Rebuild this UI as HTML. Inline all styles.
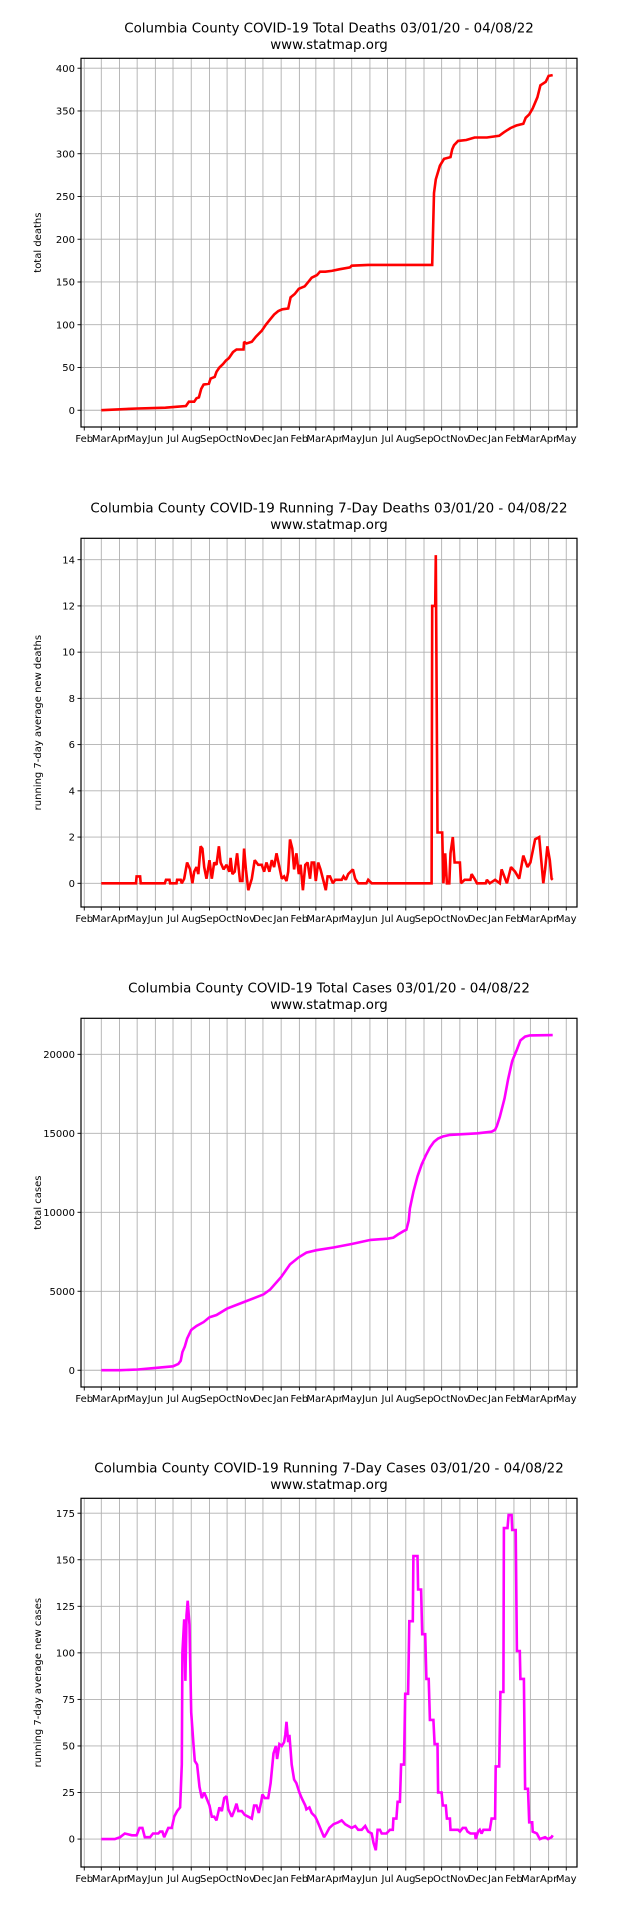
<!DOCTYPE html>
<html><head><meta charset="utf-8"><style>
body{margin:0;background:#fff;}
svg{display:block;font-family:"DejaVu Sans","Liberation Sans",sans-serif;}
</style></head><body>
<svg id="fig" width="640" height="1920" viewBox="0 0 640 1920" xmlns="http://www.w3.org/2000/svg"></svg>
<script>
// x values = days since 2020-03-01
const deathDays = [0,61,109,127,144,149,158,162,166,170,174,183,186,193,196,201,207,212,217,224,230,242,243,247,256,263,273,280,287,294,301,308,318,322,329,336,346,351,358,367,372,381,392,406,423,426,454,563,566,569,576,583,594,597,600,607,621,635,656,677,685,696,706,718,722,728,734,742,747,756,761,768];
const deathVals = [0,2,3,4,5,10,10,14,15,25,30,31,37,39,45,50,54,58,61,68,71,71,80,78,80,86,93,100,106,112,116,118,119,132,136,142,145,149,155,158,162,162,163,165,167,169,170,170,254,270,286,294,296,305,310,315,316,319,319,321,325,330,333,335,342,346,353,366,380,384,391,392];

const runDeathDays = [0,59,60,66,67,108,110,116,117,128,129,135,137,141,146,151,155,158,162,165,169,172,175,179,184,188,192,196,200,203,208,213,218,220,223,227,231,236,240,243,246,250,256,261,267,273,277,281,286,290,294,298,303,307,311,315,318,321,325,328,332,336,339,343,347,351,355,358,362,365,369,373,378,382,385,389,394,398,409,412,416,420,428,432,437,451,454,460,562,563,568,569,572,580,582,585,588,592,594,598,601,610,612,618,628,630,636,639,654,656,661,670,678,681,690,697,704,711,718,725,730,738,745,752,755,759,763,766,768];
const runDeathVals = [0,0,0.3,0.3,0,0,0.15,0.15,0,0,0.15,0.15,0,0.2,0.9,0.6,0,0.5,0.7,0.4,1.6,1.5,0.7,0.2,1.0,0.2,0.9,0.8,1.6,0.9,0.6,0.8,0.5,1.1,0.4,0.5,1.3,0.1,0.1,1.5,0.6,-0.3,0.2,1.0,0.8,0.8,0.5,0.9,0.5,1.0,0.7,1.3,0.7,0.2,0.3,0.1,0.5,1.9,1.5,0.6,1.3,0.4,0.8,-0.3,0.8,0.9,0.2,0.9,0.9,0.1,0.9,0.6,0.1,-0.3,0.3,0.3,0,0.15,0.15,0.3,0.15,0.4,0.6,0.2,0,0,0.15,0,0,12,12,14.2,2.2,2.2,0,1.3,0,0,1.3,2.0,0.9,0.9,0,0.15,0.15,0.4,0.15,0,0,0.15,0,0.15,0,0.6,0,0.7,0.5,0.2,1.2,0.7,0.9,1.9,2.0,0,0.6,1.6,1.0,0.2,0.15];

const caseDays = [0,32,62,92,122,131,135,138,142,146,153,162,174,184,196,214,245,276,287,306,321,336,349,366,396,427,458,487,497,505,514,519,523,525,531,538,545,552,559,566,573,581,593,640,664,670,673,678,686,692,699,707,713,721,729,768];
const caseVals = [0,0,50,150,250,400,600,1150,1500,2000,2550,2800,3050,3350,3500,3900,4350,4800,5100,5900,6700,7150,7450,7600,7780,8000,8250,8330,8400,8600,8800,8900,9470,10250,11300,12270,13030,13600,14100,14460,14670,14800,14900,15000,15100,15220,15470,16040,17200,18420,19580,20300,20880,21120,21200,21220];

const runCaseDays = [0,23,32,40,52,60,65,70,74,83,88,97,100,104,107,114,120,124,129,134,137,138,141,143,145,147,150,153,157,159,163,167,171,175,179,184,188,192,196,201,205,209,213,216,222,226,230,233,239,244,250,256,260,264,268,272,274,278,284,288,293,297,299,303,307,311,313,315,318,320,324,328,332,337,341,347,349,354,358,364,367,371,375,379,383,388,395,403,409,415,420,426,432,437,443,449,454,460,463,467,470,474,477,485,491,496,497,502,504,508,510,515,517,522,524,530,531,538,539,544,546,551,553,557,559,565,567,572,573,579,581,586,588,593,594,607,610,615,620,623,628,636,637,641,644,647,650,661,664,670,671,677,679,684,685,691,693,698,699,705,707,712,713,719,721,726,728,733,734,741,746,755,760,766,768];
const runCaseVals = [0,0,1,3,2,2,6,6,1,1,3,3,4,4,1,6,6,12,15,17,40,100,118,85,120,128,115,68,50,42,40,28,22,25,22,18,12,12,10,17,15,22,23,16,12,15,19,15,15,13,12,11,18,18,14,20,24,22,22,30,46,50,43,51,50,52,56,63,52,56,40,32,30,25,22,18,16,17,14,12,10,7,4,1,3,6,8,9,10,8,7,6,7,5,5,7,4,3,-2,-6,5,5,3,3,5,5,11,11,20,20,40,40,78,78,117,117,152,152,134,134,110,110,86,86,64,64,51,51,25,25,18,18,11,11,5,5,4,6,6,4,3,3,0,4,5,3,5,5,11,11,39,39,79,79,167,167,174,174,166,166,101,101,86,86,27,27,9,9,4,3,0,1,0,1,2];

const monthLabels = ["Feb","Mar","Apr","May","Jun","Jul","Aug","Sep","Oct","Nov","Dec","Jan","Feb","Mar","Apr","May","Jun","Jul","Aug","Sep","Oct","Nov","Dec","Jan","Feb","Mar","Apr","May"];
const monthStartDays = [-29,0,31,61,92,122,153,184,214,245,275,306,337,365,396,426,457,487,518,549,579,610,640,671,702,730,761,791];

const deathTicks = [0,50,100,150,200,250,300,350,400];
const runDeathTicks = [0,2,4,6,8,10,12,14];
const caseTicks = [0,5000,10000,15000,20000];
const runCaseTicks = [0,25,50,75,100,125,150,175];

const NS="http://www.w3.org/2000/svg";
const svg=document.getElementById('fig');
function mk(tag,attrs,parent){const e=document.createElementNS(NS,tag);for(const k in attrs)e.setAttribute(k,attrs[k]);(parent||svg).appendChild(e);return e;}

const L=81,R=577,PX_DAY=0.5878,X0=101.3;
function xs(d){return X0+d*PX_DAY;}

function panel(k,slug,title,ylabel,days,vals,ticks,color,ymin,ymax){
  const off=480*k, top=58.3+off, bot=427+off;
  const g=mk('g',{});
  
  
  const ys=v=>bot-(v-ymin)/(ymax-ymin)*(bot-top);
  const t1=mk('text',{x:329,y:32.5+off,'font-size':13.4,'text-anchor':'middle',fill:'#000'},g);
  t1.textContent=title;
  
  
  const t2=mk('text',{x:329,y:48.8+off,'font-size':13.4,'text-anchor':'middle',fill:'#000'},g);
  t2.textContent='www.statmap.org';
  
  
  monthStartDays.forEach((d,i)=>{
    const x=xs(d);
    const gl=mk('line',{x1:x,x2:x,y1:top,y2:bot,stroke:'#b0b0b0','stroke-width':0.9},g);
    
    
    mk('line',{x1:x,x2:x,y1:bot,y2:bot+3.5,stroke:'#000','stroke-width':0.9},g);
    const tl=mk('text',{x:x,y:bot+15,'font-size':10,'text-anchor':'middle',fill:'#000'},g);
    tl.textContent=monthLabels[i];
    
    
  });
  ticks.forEach(v=>{
    const y=ys(v);
    const gl=mk('line',{x1:L,x2:R,y1:y,y2:y,stroke:'#b0b0b0','stroke-width':0.9},g);
    
    
    mk('line',{x1:L-3.5,x2:L,y1:y,y2:y,stroke:'#000','stroke-width':0.9},g);
    const tl=mk('text',{x:L-6,y:y+3.6,'font-size':10,'text-anchor':'end',fill:'#000'},g);
    tl.textContent=String(v);
    
    
  });
  const yl=mk('text',{x:0,y:0,'font-size':10,'text-anchor':'middle',fill:'#000',transform:`translate(41,${(top+bot)/2}) rotate(-90)`},g);
  yl.textContent=ylabel;
  
  
  const pts=days.map((d,i)=>xs(d).toFixed(1)+','+ys(vals[i]).toFixed(1)).join(' ');
  const line=mk('polyline',{points:pts,fill:'none',stroke:color,'stroke-width':2.6,'stroke-linejoin':'miter','stroke-miterlimit':2},g);
  
  
  const box=mk('rect',{x:L,y:top,width:R-L,height:bot-top,fill:'none',stroke:'#000','stroke-width':1.2},g);
  
  
}
panel(0,'total-deaths','Columbia County COVID-19 Total Deaths 03/01/20 - 04/08/22','total deaths',deathDays,deathVals,deathTicks,'#ff0000',-19.6,411.6);
panel(1,'running-deaths','Columbia County COVID-19 Running 7-Day Deaths 03/01/20 - 04/08/22','running 7-day average new deaths',runDeathDays,runDeathVals,runDeathTicks,'#ff0000',-1.025,14.925);
panel(2,'total-cases','Columbia County COVID-19 Total Cases 03/01/20 - 04/08/22','total cases',caseDays,caseVals,caseTicks,'#ff00ff',-1061,22281);
panel(3,'running-cases','Columbia County COVID-19 Running 7-Day Cases 03/01/20 - 04/08/22','running 7-day average new cases',runCaseDays,runCaseVals,runCaseTicks,'#ff00ff',-15,183);
</script>
</body></html>
